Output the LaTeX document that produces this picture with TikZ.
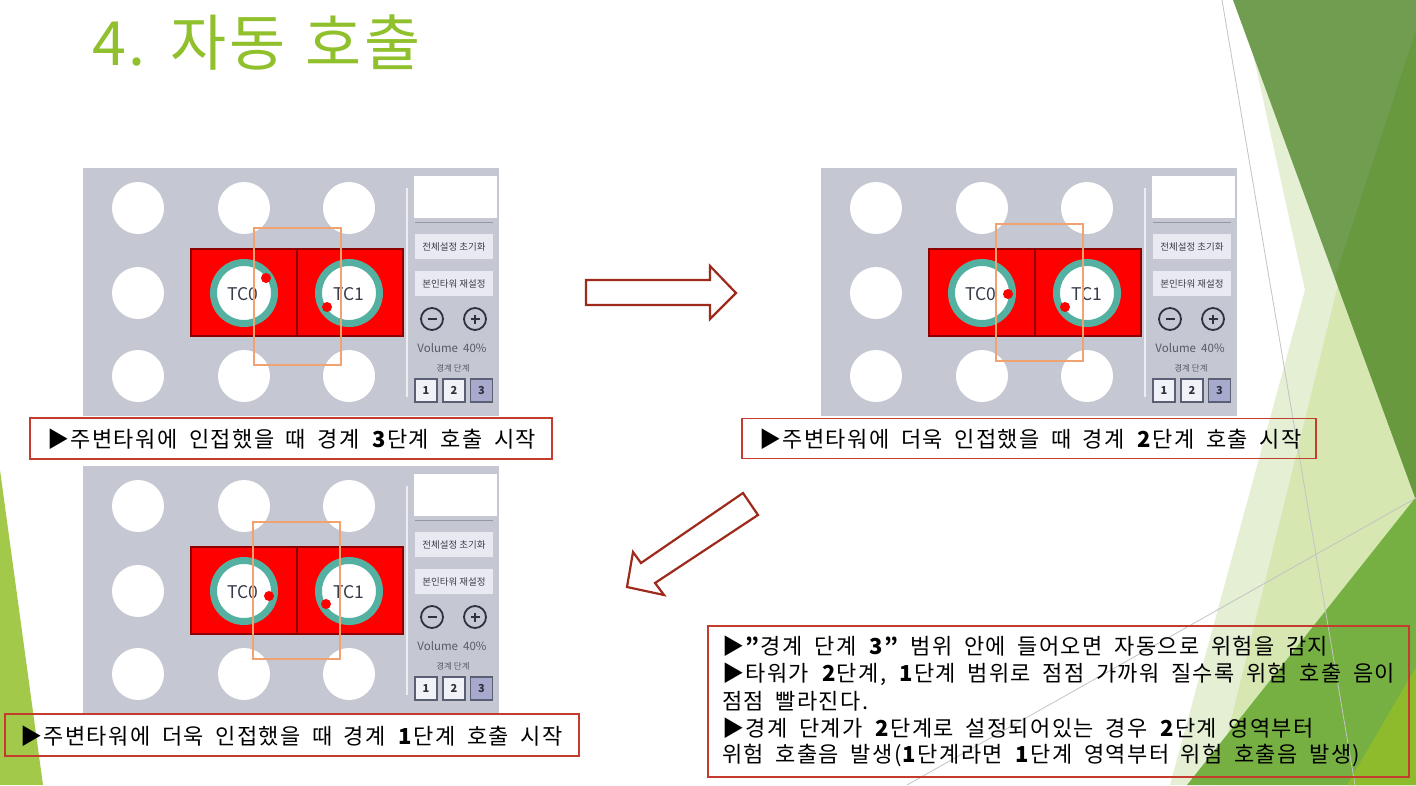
\documentclass[tikz,border=0pt]{standalone}
\usepackage{fontspec}
\setmainfont{Noto Sans CJK KR}
\newfontfamily\capfont[LetterSpace=6.5]{Noto Sans CJK KR}
\newfontfamily\titlefont[LetterSpace=4]{Noto Sans CJK KR}
\definecolor{titlegreen}{RGB}{145,192,45}
\definecolor{panelgray}{RGB}{197,200,210}
\definecolor{ringteal}{RGB}{84,176,160}
\definecolor{blockred}{RGB}{255,0,0}
\definecolor{blockedge}{RGB}{140,0,0}
\definecolor{frameorange}{RGB}{240,162,112}
\definecolor{capred}{RGB}{195,60,45}
\definecolor{arrowred}{RGB}{158,42,28}
\definecolor{btnfill}{RGB}{233,234,241}
\definecolor{btntext}{RGB}{60,62,72}
\definecolor{icondark}{RGB}{45,50,65}
\definecolor{lvlfill}{RGB}{168,170,205}
\definecolor{lvlwhite}{RGB}{240,242,248}
\definecolor{lvledge}{RGB}{90,95,115}
\definecolor{sidegray}{RGB}{85,90,100}
\definecolor{tcgray}{RGB}{55,60,75}
\definecolor{sideline}{RGB}{236,237,242}
\definecolor{hrgray}{RGB}{150,152,162}
\definecolor{decopale}{RGB}{228,239,212}
\definecolor{decopaletwo}{RGB}{214,231,178}
\definecolor{decodark}{RGB}{113,157,80}
\definecolor{decodarktwo}{RGB}{104,153,62}
\definecolor{decomid}{RGB}{118,176,67}
\definecolor{decoyellow}{RGB}{141,187,43}
\definecolor{decolime}{RGB}{163,201,74}
\definecolor{decoline}{RGB}{195,195,195}
\usetikzlibrary{calc}
\tikzset{
  panelbg/.style={fill=panelgray, minimum width=416, minimum height=248, inner sep=0, outer sep=0},
  holecirc/.style={circle, fill=white, minimum size=52, inner sep=0},
  redcell/.style={fill=blockred, draw=blockedge, line width=2, minimum width=106, minimum height=87, inner sep=0},
  tcring/.style={circle, fill=white, draw=ringteal, line width=7, minimum size=61, inner sep=0},
  tclabel/.style={font=\fontsize{17.5}{18}\selectfont, text=tcgray, inner sep=0},
  reddot/.style={circle, fill=blockred, minimum size=10, inner sep=0},
  wbox/.style={fill=white, minimum width=83, minimum height=42, inner sep=0},
  uibtn/.style={fill=btnfill, minimum width=78, minimum height=25, inner sep=0, font=\fontsize{9.5}{10}\selectfont, text=btntext},
  iconring/.style={circle, draw=icondark, line width=1.8, minimum size=22, inner sep=0},
  lvlbox/.style={draw=lvledge, line width=1.2, fill=lvlwhite, minimum width=22, minimum height=23, inner sep=0, font=\bfseries\fontsize{11}{11}\selectfont, text=icondark},
  sidetext/.style={inner sep=0, text=sidegray},
  zoneframe/.style={draw=frameorange, line width=2.5},
  capframe/.style={draw=capred, line width=1.2, inner sep=0},
  captext/.style={anchor=west, inner sep=0, font={\capfont\fontsize{22}{24}\selectfont\spaceskip=11.5pt\relax}, text=black},
  blockarrow/.style={draw=arrowred, line width=2.2, fill=white, line join=miter},
}
\newcommand\uipanel[7]{%
\begin{scope}[shift={(#2,#3)}]
  \node[panelbg] (#1) at (208,124) {};
  \foreach \cx/\cy [count=\k] in {55/40,161/40,266/40,55/125,55/208,161/208,266/208}
    \node[holecirc] (#1h\k) at (\cx,\cy) {};
  \node[redcell] (#1c0) at (161,124.5) {};
  \node[redcell] (#1c1) at (267,124.5) {};
  \node[tcring] (#1r0) at (161,125) {};
  \node[tcring] (#1r1) at (266,125) {};
  \node[tclabel] (#1t0) at (160,126) {TC0};
  \node[tclabel] (#1t1) at (266,126) {TC1};
  \node[reddot] (#1d0) at (#4) {};
  \node[reddot] (#1d1) at (#5) {};
  \draw[sideline, line width=1.5] (324,20) -- (324,229);
  \node[wbox] (#1w) at (372.5,29) {};
  \draw[hrgray, line width=1] (332,54) -- (410,54);
  \node[uibtn] (#1b1) at (371,78.5) {전체설정 초기화};
  \node[uibtn] (#1b2) at (371,115.5) {본인타워 재설정};
  \node[iconring] (#1m) at (349,151) {};
  \node[iconring] (#1p) at (392,151) {};
  \draw[icondark, line width=2.6] ($(#1m)+(-4.5,0)$) -- ($(#1m)+(4.5,0)$);
  \draw[icondark, line width=2.6] ($(#1p)+(-4.5,0)$) -- ($(#1p)+(4.5,0)$);
  \draw[icondark, line width=2.6] ($(#1p)+(0,-4.5)$) -- ($(#1p)+(0,4.5)$);
  \node[sidetext, font=\fontsize{11.5}{12}\selectfont] (#1vol) at (369,180) {Volume\ \ 40\%};
  \node[sidetext, font=\fontsize{8.5}{9}\selectfont] (#1lv) at (370,200) {경계 단계};
  \node[lvlbox] (#1l1) at (343,222.5) {1};
  \node[lvlbox] (#1l2) at (371,222.5) {2};
  \node[lvlbox, fill=lvlfill] (#1l3) at (398.5,222.5) {3};
  \draw[zoneframe] (#6) rectangle (#7);
\end{scope}}
\begin{document}
\begin{tikzpicture}[x=1pt,y=-1pt]
\useasboundingbox (0,0) rectangle (1416,785);
\fill[white] (0,0) rectangle (1416,785);
% theme decoration
\fill[decolime] (0,470) -- (0,785) -- (43,785) -- cycle;
\fill[decopale] (1250,40) -- (1305,290) -- (1170,785) -- (1416,785) -- (1416,500) -- cycle;
\fill[decopaletwo] (1338,285) -- (1416,500) -- (1416,785) -- (1215,785) -- cycle;
\fill[decodark] (1233,0) -- (1416,0) -- (1416,500) -- cycle;
\fill[decodarktwo] (1416,30) -- (1335,278) -- (1416,500) -- cycle;
\fill[decomid] (1416,497) -- (1187,785) -- (1416,785) -- cycle;
\fill[decoyellow] (1416,667) -- (1347,785) -- (1416,785) -- cycle;
\draw[decoline, line width=0.8] (1222,0) -- (1355,785);
\draw[decoline, line width=0.8] (907,785) -- (1416,498);
% title
\node[anchor=west, inner sep=0, text=titlegreen, font={\titlefont\fontsize{61}{63}\selectfont\spaceskip=20pt\relax}] (title) at (92,42.5) {4. 자동 호출};
% screen panels
\uipanel{pa}{83}{168}{183,110}{244,139}{171,60}{258,197}
\uipanel{pb}{821}{168}{187,126}{244,139}{175,56}{262,193}
\uipanel{pc}{83}{466}{186,130}{243,138}{170,56}{257,193}
% captions
\node[capframe, minimum width=522, minimum height=41] (capbox1) at (291,438.5) {};
\node[captext] (captxt1) at (47,439) {▶주변타워에 인접했을 때 경계 \textbf{3}단계 호출 시작};
\node[capframe, minimum width=574, minimum height=40] (capbox2) at (1029,438.5) {};
\node[captext] (captxt2) at (759,439) {▶주변타워에 더욱 인접했을 때 경계 \textbf{2}단계 호출 시작};
\node[capframe, minimum width=574, minimum height=42] (capbox3) at (292,735) {};
\node[captext] (captxt3) at (20,736) {▶주변타워에 더욱 인접했을 때 경계 \textbf{1}단계 호출 시작};
% note box
\node[capframe, minimum width=701, minimum height=151] (notebox) at (1058.5,701.5) {};
\node[captext] (note1) at (722,646.5) {▶\textbf{”}경계 단계 \textbf{3”} 범위 안에 들어오면 자동으로 위험을 감지};
\node[captext] (note2) at (722,673.8) {▶타워가 \textbf{2}단계, \textbf{1}단계 범위로 점점 가까워 질수록 위험 호출 음이};
\node[captext] (note3) at (722,701.1) {점점 빨라진다.};
\node[captext] (note4) at (722,728.4) {▶경계 단계가 \textbf{2}단계로 설정되어있는 경우 \textbf{2}단계 영역부터};
\node[captext] (note5) at (722,755.7) {위험 호출음 발생(\textbf{1}단계라면 \textbf{1}단계 영역부터 위험 호출음 발생)};
% block arrows
\draw[blockarrow] (586,280) -- (710,280) -- (710,266) -- (736,293) -- (710,319) -- (710,305) -- (586,305) -- cycle;
\draw[blockarrow] (743,493) -- (641,563) -- (633,552) -- (627,587) -- (664,595) -- (655,583) -- (758,515) -- cycle;
\end{tikzpicture}
\end{document}
